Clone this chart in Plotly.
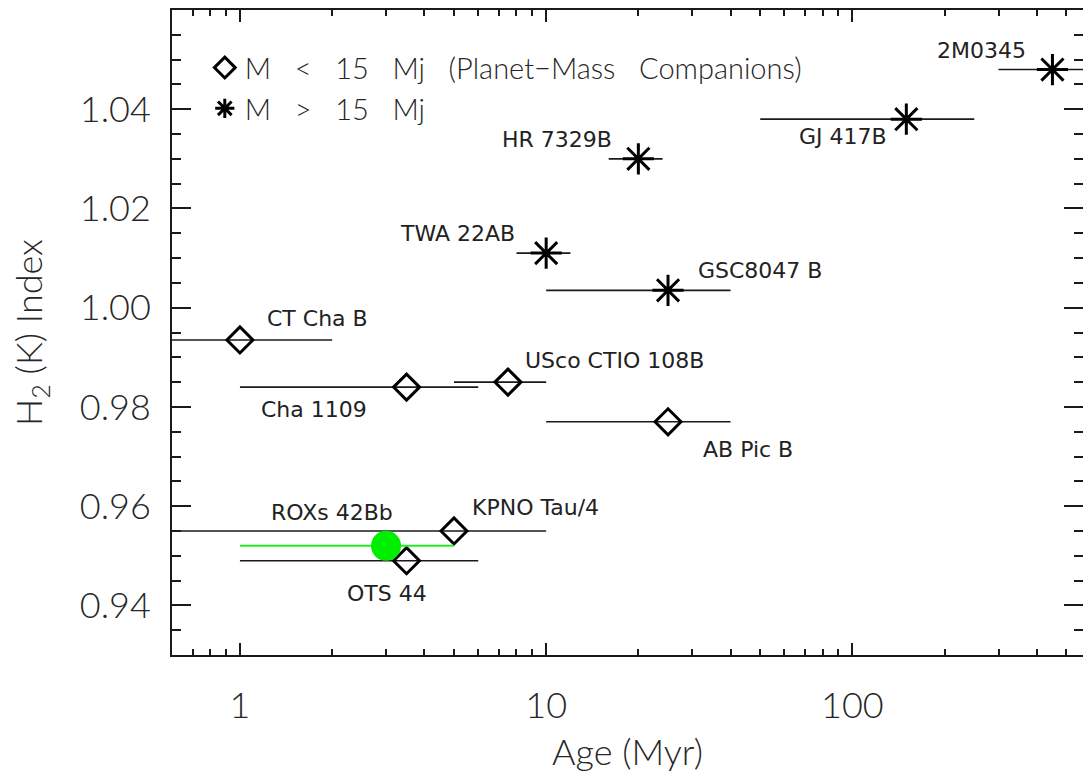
import math
import plotly.graph_objects as go

# Planet-mass companions (M < 15 Mj)
low_names = ["CT Cha B", "Cha 1109", "USco CTIO 108B", "AB Pic B", "KPNO Tau/4", "OTS 44"]
low_age = [1.0, 3.5, 7.5, 25.0, 5.0, 3.5]
low_age_min = [0.5, 1.0, 5.0, 10.0, 0.5, 1.0]
low_age_max = [2.0, 6.0, 10.0, 40.0, 10.0, 6.0]
low_h2 = [0.9935, 0.984, 0.985, 0.977, 0.955, 0.949]

# Brown-dwarf companions (M > 15 Mj)
high_names = ["2M0345", "GJ 417B", "HR 7329B", "TWA 22AB", "GSC8047 B"]
high_age = [450.0, 150.0, 20.0, 10.0, 25.0]
high_age_min = [300.0, 50.0, 16.0, 8.0, 10.0]
high_age_max = [700.0, 250.0, 24.0, 12.0, 40.0]
high_h2 = [1.048, 1.038, 1.030, 1.011, 1.0035]

# ROXs 42Bb
rox_name = "ROXs 42Bb"
rox_age = [3.0]
rox_age_min = [1.0]
rox_age_max = [5.0]
rox_h2 = [0.952]

# legend entries (wide spacing between words)
SP = "\u00a0" * 3
legend_low = SP.join(["M", "<", "15", "Mj", "(Planet\u2212Mass", "Companions)"])
legend_high = SP.join(["M", ">", "15", "Mj"])

# label placement: (xanchor, xshift px, yshift px)
label_pos = {
    "CT Cha B": ("left", 25, 21),
    "Cha 1109": ("right", -38, -22),
    "USco CTIO 108B": ("left", 15, 22),
    "AB Pic B": ("left", 33, -28),
    "KPNO Tau/4": ("left", 16, 23),
    "OTS 44": ("center", -20, -33),
    "2M0345": ("right", -24, 19),
    "GJ 417B": ("right", -17, -17),
    "HR 7329B": ("right", -24, 19),
    "TWA 22AB": ("right", -29, 20),
    "GSC8047 B": ("left", 28, 20),
    "ROXs 42Bb": ("center", -54, 33),
}

INK = "#1a1a1a"
AXFONT = dict(family="Lato, DejaVu Sans, sans-serif", size=36, color="#262626", weight=300)
LABFONT = dict(family="DejaVu Sans, sans-serif", size=22, color="#222222")


def err(age, lo, hi, color=INK, thickness=1.6):
    plus = [h - a for a, h in zip(age, hi)]
    minus = [a - l for a, l in zip(age, lo)]
    return dict(type="data", symmetric=False, array=plus, arrayminus=minus,
                color=color, thickness=thickness, width=0)


fig = go.Figure()

fig.add_trace(go.Scatter(
    x=low_age, y=low_h2, mode="markers", name=legend_low,
    marker=dict(symbol="diamond-open", size=20, color="black", line=dict(width=3, color="black")),
    error_x=err(low_age, low_age_min, low_age_max),
))

fig.add_trace(go.Scatter(
    x=high_age, y=high_h2, mode="markers", name=legend_high,
    marker=dict(symbol="asterisk-open", size=26, color="black", line=dict(width=3, color="black")),
    error_x=err(high_age, high_age_min, high_age_max),
))

fig.add_trace(go.Scatter(
    x=rox_age, y=rox_h2, mode="markers", name=rox_name, showlegend=False,
    marker=dict(symbol="circle", size=30, color="#00ee00", line=dict(width=0)),
    error_x=err(rox_age, rox_age_min, rox_age_max, color="#22ee22", thickness=2),
))

# right-hand tick marks (no axis line)
fig.add_trace(go.Scatter(x=[], y=[], yaxis="y2", showlegend=False, hoverinfo="skip"))

for names, ages, h2s in ((low_names, low_age, low_h2), (high_names, high_age, high_h2),
                         ([rox_name], rox_age, rox_h2)):
    for n, a, h in zip(names, ages, h2s):
        xa, xs, ys = label_pos[n]
        fig.add_annotation(x=math.log10(a), y=h, text=n, showarrow=False,
                           xanchor=xa, yanchor="middle", xshift=xs, yshift=ys,
                           font=LABFONT)

minor_x = [0.7, 0.8, 0.9] + [v * d for d in (1, 10) for v in range(2, 10)] + [200, 300, 400, 500]

fig.update_layout(
    width=1083, height=773,
    margin=dict(l=172, r=0, t=10, b=113),
    paper_bgcolor="white", plot_bgcolor="white",
    showlegend=True,
    legend=dict(x=0.036, y=0.95, xanchor="left", yanchor="top",
                bgcolor="rgba(0,0,0,0)", font=dict(family="Lato, sans-serif", size=29,
                                                   color="#262626", weight=300),
                itemsizing="trace", tracegroupgap=0),
    xaxis=dict(
        type="log", range=[math.log10(0.6), 2.753],
        tickmode="array", tickvals=[1, 10, 100], ticktext=["1", "10", "100"],
        ticks="inside", ticklen=12, tickwidth=2, tickcolor=INK,
        showline=True, linewidth=2, linecolor=INK, mirror="ticks",
        showgrid=False, zeroline=False,
        minor=dict(tickvals=minor_x, ticks="inside", ticklen=6, tickwidth=2,
                   tickcolor=INK, showgrid=False),
        tickfont=AXFONT, ticklabelstandoff=18,
        title=dict(text="Age (Myr)", font=AXFONT, standoff=22),
    ),
    yaxis=dict(
        range=[0.93, 1.06], tickmode="linear", tick0=0.94, dtick=0.02, tickformat=".2f",
        ticks="inside", ticklen=19, tickwidth=2, tickcolor=INK,
        showline=True, linewidth=2, linecolor=INK, mirror=False,
        showgrid=False, zeroline=False,
        minor=dict(tick0=0.93, dtick=0.005, ticks="inside", ticklen=9, tickwidth=2,
                   tickcolor=INK, showgrid=False),
        tickfont=AXFONT, ticklabelstandoff=12,
        title=dict(text="H<sub>2</sub> (K) Index", font=AXFONT, standoff=26),
    ),
    yaxis2=dict(
        overlaying="y", side="right", anchor="x", matches="y",
        range=[0.93, 1.06], tickmode="linear", tick0=0.94, dtick=0.02,
        ticks="inside", ticklen=19, tickwidth=2, tickcolor=INK,
        showline=False, showgrid=False, zeroline=False, showticklabels=False,
        minor=dict(tick0=0.93, dtick=0.005, ticks="inside", ticklen=9, tickwidth=2,
                   tickcolor=INK, showgrid=False),
    ),
)

fig.write_html("out.html")
